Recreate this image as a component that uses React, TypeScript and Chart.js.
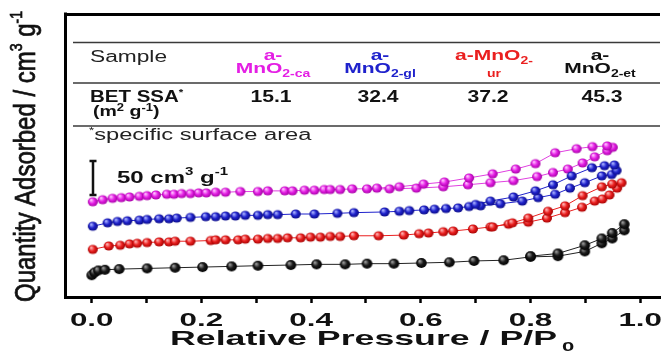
import React, { useEffect, useRef } from 'react';
import { Chart, registerables } from 'chart.js';

Chart.register(...registerables);

// ---------- data (P/P0 vs quantity adsorbed, offset curves, cm3/g) ----------
const magAdsP = [0.002, 0.02, 0.038, 0.054, 0.069, 0.087, 0.101, 0.117, 0.137, 0.15, 0.164, 0.18, 0.195, 0.209, 0.226, 0.244, 0.271, 0.303, 0.321, 0.352, 0.366, 0.388, 0.406, 0.424, 0.435, 0.453, 0.475, 0.502, 0.543, 0.592, 0.641, 0.686, 0.727, 0.769, 0.812, 0.841, 0.868, 0.895, 0.917, 0.94];
const magAdsQ = [140, 143, 145, 146, 147, 148, 149, 150, 151, 151, 152, 152, 153, 153, 154, 154, 155, 155, 156, 156, 156, 157, 157, 158, 158, 158, 159, 159, 159, 160, 162, 165, 168, 171, 177, 183, 188, 197, 206, 215];
const magDesP = [0.95, 0.94, 0.913, 0.884, 0.845, 0.809, 0.773, 0.731, 0.688, 0.643, 0.605, 0.561, 0.52];
const magDesQ = [220, 222, 221, 218, 212, 196, 188, 181, 175, 169, 166, 162, 160];

const bluAdsP = [0.002, 0.029, 0.047, 0.065, 0.087, 0.101, 0.123, 0.141, 0.155, 0.18, 0.208, 0.226, 0.244, 0.262, 0.28, 0.303, 0.321, 0.339, 0.372, 0.406, 0.448, 0.478, 0.534, 0.561, 0.579, 0.606, 0.625, 0.646, 0.668, 0.688, 0.709, 0.745, 0.785, 0.814, 0.845, 0.872, 0.899, 0.93, 0.948];
const bluAdsQ = [104, 109, 111, 112, 113, 114, 115, 115, 116, 117, 118, 118, 119, 119, 120, 120, 121, 121, 122, 122, 123, 124, 125, 126, 127, 128, 129, 130, 131, 133, 134, 137, 141, 146, 151, 160, 168, 178, 180];
const bluDesP = [0.957, 0.953, 0.935, 0.912, 0.875, 0.841, 0.809, 0.769, 0.727, 0.7];
const bluDesQ = [186, 194, 193, 190, 178, 165, 156, 147, 141, 136];

const redAdsP = [0.002, 0.031, 0.052, 0.069, 0.083, 0.101, 0.123, 0.141, 0.152, 0.18, 0.217, 0.226, 0.244, 0.267, 0.28, 0.303, 0.321, 0.339, 0.357, 0.381, 0.399, 0.417, 0.435, 0.453, 0.478, 0.523, 0.569, 0.597, 0.614, 0.641, 0.659, 0.695, 0.727, 0.76, 0.796, 0.83, 0.863, 0.894, 0.917, 0.931, 0.944, 0.958];
const redAdsQ = [70, 75, 76, 78, 79, 80, 81, 81, 82, 82, 83, 84, 84, 84, 85, 85, 86, 86, 87, 87, 88, 88, 89, 89, 90, 90, 91, 93, 94, 96, 97, 100, 103, 107, 110, 116, 124, 132, 141, 144, 150, 160];
const redDesP = [0.966, 0.949, 0.93, 0.895, 0.863, 0.832, 0.796, 0.767, 0.731];
const redDesQ = [168, 166, 162, 149, 134, 126, 116, 109, 103];

const blkAdsP = [0.0, 0.005, 0.012, 0.024, 0.05, 0.101, 0.152, 0.202, 0.255, 0.303, 0.363, 0.41, 0.462, 0.502, 0.551, 0.601, 0.652, 0.697, 0.751, 0.8, 0.85, 0.899, 0.93, 0.949, 0.971];
const blkAdsQ = [32, 36, 39, 40, 41, 42, 43, 44, 45, 46, 47, 48, 48, 49, 49, 50, 51, 53, 54, 59, 60, 67, 79, 86, 98];
const blkDesP = [0.971, 0.949, 0.93, 0.899, 0.85, 0.8];
const blkDesQ = [107, 94, 86, 76, 64, 60];

const xTickValues = [0, 0.1, 0.2, 0.3, 0.4, 0.5, 0.6, 0.7, 0.8, 0.9, 1.0];
const xTickLabels = ['0.0', '', '0.2', '', '0.4', '', '0.6', '', '0.8', '', '1.0'];

const sampleNames = ['ca', 'gl', 'ur', 'et'];
const betValues = ['15.1', '32.4', '37.2', '45.3'];
const scaleBarValue = 50;
const scaleBarTop = 200;

const FONT = "'Liberation Sans', Arial, Helvetica, sans-serif";
const MAG = '#e41fe4';
const BLU = '#1f22cc';
const RED = '#ea1f1f';
const BLK = '#111111';

type Seg = { t: string; size: number; dy?: number; dx?: number };

function drawRich(
  ctx: CanvasRenderingContext2D,
  segs: Seg[],
  x: number,
  y: number,
  align: 'left' | 'center',
  sx: number,
  color: string,
  weight: string,
  sy = 1,
  strokeW = 0
) {
  ctx.save();
  ctx.fillStyle = color;
  ctx.strokeStyle = color;
  ctx.lineWidth = strokeW;
  ctx.textBaseline = 'alphabetic';
  ctx.textAlign = 'left';
  let w = 0;
  const ws: number[] = [];
  for (const s of segs) {
    ctx.font = `${weight} ${s.size}px ${FONT}`;
    const m = ctx.measureText(s.t).width + (s.dx || 0);
    ws.push(m);
    w += m;
  }
  ctx.translate(x, y);
  ctx.scale(sx, sy);
  let cx = align === 'center' ? -w / 2 : 0;
  segs.forEach((s, i) => {
    ctx.font = `${weight} ${s.size}px ${FONT}`;
    const px = cx + (s.dx || 0);
    ctx.fillText(s.t, px, s.dy || 0);
    if (strokeW > 0) ctx.strokeText(s.t, px, s.dy || 0);
    cx += ws[i];
  });
  ctx.restore();
}

function sphere(color: string, light: string, dark: string, rx: number, ry: number) {
  const c = document.createElement('canvas');
  const w = Math.ceil(rx * 2) + 2;
  const h = Math.ceil(ry * 2) + 2;
  c.width = w;
  c.height = h;
  const g = c.getContext('2d')!;
  const cx = w / 2;
  const cy = h / 2;
  const grad = g.createRadialGradient(cx - rx * 0.35, cy - ry * 0.4, 0.5, cx, cy, Math.max(rx, ry));
  grad.addColorStop(0, light);
  grad.addColorStop(0.5, color);
  grad.addColorStop(1, dark);
  g.fillStyle = grad;
  g.beginPath();
  g.ellipse(cx, cy, rx, ry, 0, 0, Math.PI * 2);
  g.fill();
  return c;
}

function loop(aP: number[], aQ: number[], dP: number[], dQ: number[]) {
  return [
    ...aP.map((p, i) => ({ x: p, y: aQ[i] })),
    ...dP.map((p, i) => ({ x: p, y: dQ[i] })),
  ];
}

const decorPlugin = {
  id: 'decor',
  afterDraw(chart: any) {
    const ctx: CanvasRenderingContext2D = chart.ctx;
    const ca = chart.chartArea;
    const xs = chart.scales.x;
    const ys = chart.scales.y;
    ctx.save();
    // frame: left and top
    ctx.strokeStyle = '#000';
    ctx.lineWidth = 3;
    ctx.beginPath();
    ctx.moveTo(ca.left + 0.5, ca.top - 1.5);
    ctx.lineTo(ca.left + 0.5, ca.bottom + 1.5);
    ctx.moveTo(ca.left - 1, ca.top + 0.5);
    ctx.lineTo(ca.right, ca.top + 0.5);
    ctx.stroke();

    // table lines
    ctx.strokeStyle = '#3a3a3a';
    ctx.lineWidth = 1.6;
    [42.5, 83, 126].forEach((yy) => {
      ctx.beginPath();
      ctx.moveTo(73, yy);
      ctx.lineTo(ca.right, yy);
      ctx.stroke();
    });
    ctx.restore();

    // table header
    drawRich(ctx, [{ t: 'Sample', size: 16 }], 90, 62, 'left', 1.42, '#222', 'normal');
    const centers = [273, 380, 494, 600];
    const colors = [MAG, BLU, RED, BLK];
    [0, 1, 3].forEach((i) => {
      drawRich(ctx, [{ t: 'a-', size: 15 }], centers[i], 60, 'center', 1.4, colors[i], 'bold');
      drawRich(
        ctx,
        [{ t: 'MnO', size: 15 }, { t: '2-' + sampleNames[i], size: 10, dy: 4 }],
        centers[i], 73, 'center', 1.4, colors[i], 'bold'
      );
    });
    drawRich(
      ctx,
      [{ t: 'a-MnO', size: 15 }, { t: '2-', size: 10, dy: 4 }],
      centers[2], 60, 'center', 1.4, RED, 'bold'
    );
    drawRich(ctx, [{ t: sampleNames[2], size: 10 }], centers[2], 77, 'center', 1.4, RED, 'bold');

    // BET row
    drawRich(ctx, [{ t: 'BET SSA', size: 16 }, { t: '*', size: 9, dy: -7 }], 90, 102, 'left', 1.28, '#111', 'bold');
    drawRich(
      ctx,
      [{ t: '(m', size: 15 }, { t: '2', size: 10, dy: -5 }, { t: ' g', size: 15 }, { t: '-1', size: 10, dy: -5 }, { t: ')', size: 15 }],
      93, 116, 'left', 1.3, '#111', 'bold'
    );
    const valCenters = [271, 378, 488, 602];
    betValues.forEach((v, i) => {
      drawRich(ctx, [{ t: v, size: 16 }], valCenters[i], 102, 'center', 1.32, '#111', 'bold');
    });
    drawRich(ctx, [{ t: '*', size: 9, dy: -7 }, { t: 'specific surface area', size: 16 }], 89, 140, 'left', 1.48, '#222', 'normal');

    // scale bar (50 cm3/g), vertical extent from the y scale
    const barX = 93;
    const yTop = ys.getPixelForValue(scaleBarTop);
    const yBot = ys.getPixelForValue(scaleBarTop - scaleBarValue);
    ctx.save();
    ctx.strokeStyle = '#111';
    ctx.lineWidth = 2.5;
    ctx.beginPath();
    ctx.moveTo(barX, yTop);
    ctx.lineTo(barX, yBot);
    ctx.moveTo(barX - 3.5, yTop);
    ctx.lineTo(barX + 3.5, yTop);
    ctx.moveTo(barX - 3.5, yBot);
    ctx.lineTo(barX + 3.5, yBot);
    ctx.stroke();
    ctx.restore();
    drawRich(
      ctx,
      [{ t: scaleBarValue + ' cm', size: 16 }, { t: '3', size: 10, dy: -8 }, { t: ' g', size: 16 }, { t: '-1', size: 10, dy: -8 }],
      117, 183, 'left', 1.5, '#111', 'bold'
    );

    // x tick labels
    xTickValues.forEach((v, i) => {
      const lab = xTickLabels[i];
      if (!lab) return;
      drawRich(ctx, [{ t: lab, size: 19 }], xs.getPixelForValue(v), 326, 'center', 1.65, '#111', 'bold');
    });
    // x title
    drawRich(
      ctx,
      [{ t: 'Relative Pressure / P/P', size: 21 }, { t: '0', size: 13, dy: 6, dx: 3 }],
      170, 345, 'left', 1.7, '#111', 'bold'
    );

    // y title (rotated)
    ctx.save();
    ctx.translate(35, 302);
    ctx.rotate(-Math.PI / 2);
    drawRich(
      ctx,
      [{ t: 'Quantity Adsorbed / cm', size: 24 }, { t: '3', size: 14, dy: -11 }, { t: ' g', size: 24 }, { t: '-1', size: 14, dy: -11 }],
      0, 0, 'left', 1, '#111', 'normal', 1.2, 0.6
    );
    ctx.restore();
  },
};

export default function App() {
  const ref = useRef<HTMLCanvasElement | null>(null);

  useEffect(() => {
    if (!ref.current) return;
    const mk = (c: string, l: string, d: string, big = false) =>
      sphere(c, l, d, big ? 5.3 : 5, big ? 4.9 : 4.6);
    const series = [
      { data: loop(blkAdsP, blkAdsQ, blkDesP, blkDesQ), color: '#222', img: mk('#1a1a1a', '#9a9a9a', '#000', true) },
      { data: loop(redAdsP, redAdsQ, redDesP, redDesQ), color: RED, img: mk(RED, '#ffb0b0', '#a00000') },
      { data: loop(bluAdsP, bluAdsQ, bluDesP, bluDesQ), color: BLU, img: mk(BLU, '#a8b0ff', '#0a0a80') },
      { data: loop(magAdsP, magAdsQ, magDesP, magDesQ), color: '#e040e0', img: mk(MAG, '#ffc0ff', '#a000a0') },
    ];
    const chart = new Chart(ref.current, {
      type: 'line',
      data: {
        datasets: series.map((s) => ({
          data: s.data,
          borderColor: s.color,
          backgroundColor: s.color,
          borderWidth: 1,
          pointStyle: s.img as any,
          pointRadius: 5,
          tension: 0,
          fill: false,
        })),
      },
      options: {
        animation: false,
        responsive: false,
        devicePixelRatio: 1,
        layout: { padding: { left: 65, top: 14, right: 0, bottom: 0 } },
        plugins: { legend: { display: false }, tooltip: { enabled: false } },
        scales: {
          x: {
            type: 'linear',
            min: -0.0487,
            max: 1.0361,
            afterBuildTicks: (s: any) => {
              s.ticks = xTickValues.map((v) => ({ value: v }));
            },
            afterFit: (s: any) => {
              s.height = 55;
            },
            ticks: { display: false },
            grid: {
              drawOnChartArea: false,
              drawTicks: true,
              tickLength: 6,
              tickWidth: 2.5,
              tickColor: '#000',
            },
            border: { display: true, color: '#000', width: 3 },
          },
          y: {
            type: 'linear',
            display: false,
            min: 0,
            max: 416,
          },
        },
      },
      plugins: [decorPlugin],
    });
    return () => chart.destroy();
  }, []);

  return (
    <div style={{ position: 'absolute', left: 0, top: 0, width: 666, height: 352, background: '#fff' }}>
      <canvas ref={ref} width={666} height={352} style={{ display: 'block' }} />
    </div>
  );
}
